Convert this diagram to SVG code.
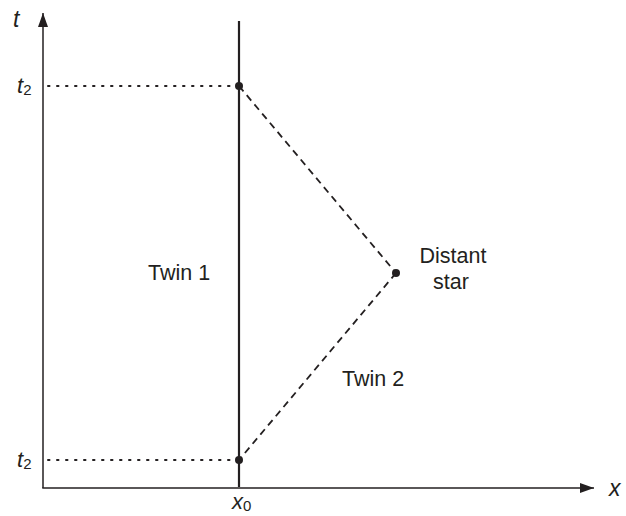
<svg xmlns="http://www.w3.org/2000/svg" width="626" height="516" viewBox="0 0 626 516">
<style>
text{font-family:"Liberation Sans",Arial,sans-serif;fill:#231f20}
.lbl{font-size:21.5px}
.it{font-style:italic;font-size:22px}
.ax{font-style:italic;font-size:23px}
.sub{font-size:15px;font-style:normal}
.axis{stroke:#231f20;stroke-width:1.5;fill:none}
.dot{stroke:#231f20;stroke-width:2;stroke-dasharray:1.5 7.5;stroke-linecap:round;fill:none}
.dash{stroke:#231f20;stroke-width:1.8;stroke-dasharray:7 5;fill:none}
.wl{stroke:#231f20;stroke-width:2.2;fill:none}
.pt{fill:#231f20}
</style>
<defs>
<marker id="ah" viewBox="0 0 14 10" refX="14" refY="5" markerWidth="14" markerHeight="10" markerUnits="userSpaceOnUse" orient="auto">
<path d="M0,0 L14,5 L0,10 z" fill="#231f20"/>
</marker>
</defs>
<g id="axes">
<line class="axis" x1="43" y1="488" x2="43" y2="13" marker-end="url(#ah)"/>
<line class="axis" x1="42.25" y1="488" x2="594" y2="488" marker-end="url(#ah)"/>
<text class="ax" x="13" y="27">t</text>
<text class="ax" x="609" y="496">x</text>
<text class="it" x="17" y="93">t<tspan class="sub" dy="2">2</tspan></text>
<text class="it" x="17" y="467">t<tspan class="sub" dy="2">2</tspan></text>
<text class="it" x="232" y="509">x<tspan class="sub" dy="2">0</tspan></text>
</g>
<g id="connectors">
<line class="dot" x1="48" y1="86" x2="234" y2="86"/>
<line class="dot" x1="48" y1="460" x2="234" y2="460"/>
<line class="dash" x1="239" y1="86" x2="396" y2="273"/>
<line class="dash" x1="396" y1="273" x2="239" y2="460"/>
</g>
<g id="twin1">
<line class="wl" x1="239" y1="21" x2="239" y2="487"/>
<circle class="pt" cx="239" cy="86" r="4"/>
<circle class="pt" cx="239" cy="460" r="4"/>
<text class="lbl" x="148" y="280">Twin 1</text>
</g>
<g id="star">
<circle class="pt" cx="396" cy="273" r="4"/>
<text class="lbl" x="453" y="263" text-anchor="middle">Distant</text>
<text class="lbl" x="451" y="289" text-anchor="middle">star</text>
</g>
<g id="twin2">
<text class="lbl" x="342" y="386">Twin 2</text>
</g>
</svg>
